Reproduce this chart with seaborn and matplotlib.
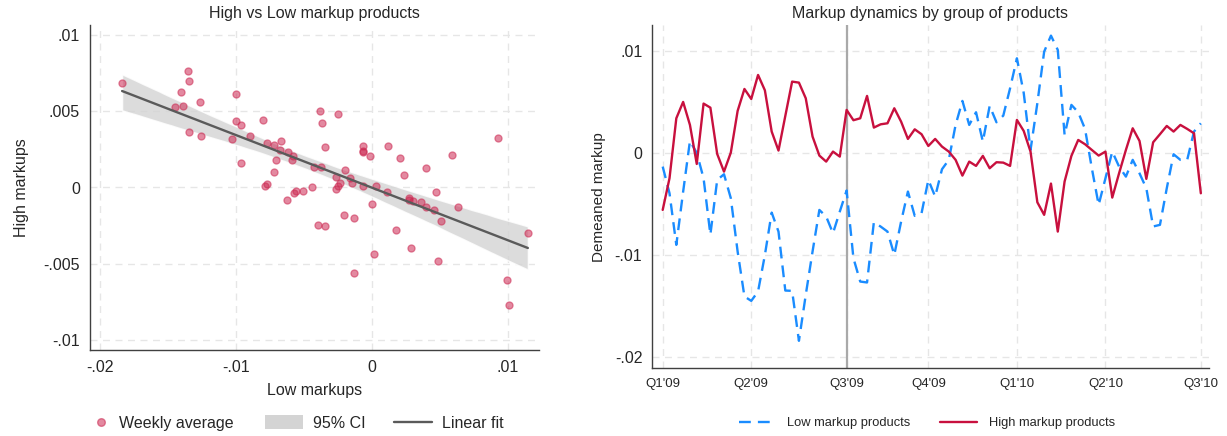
import numpy as np
import pandas as pd
import seaborn as sns
import matplotlib.pyplot as plt
from matplotlib.lines import Line2D
from matplotlib.patches import Patch
from matplotlib.ticker import FuncFormatter

# weekly demeaned markups, Q1'09 .. Q3'10 (week index 0..79)
low_markup = [
    -0.00134, -0.00395, -0.0090, -0.0038, 0.00117, 0.0, -0.00248, -0.0080,
    -0.00264, -0.00209, -0.00443, -0.00965, -0.01405, -0.01448, -0.01356, -0.0100,
    -0.00584, -0.0077, -0.01347, -0.0135, -0.01839, -0.0139, -0.00965, -0.00558,
    -0.00623, -0.00786, -0.00574, -0.00368, -0.0103, -0.01259, -0.01268, -0.00678,
    -0.00721, -0.0077, -0.00998, -0.00672, -0.00378, -0.00616, -0.0059, -0.00264,
    -0.00427, -0.0016, -0.00068, 0.00274, 0.00509, 0.00274, 0.00398, 0.00111,
    0.0046, 0.0030, 0.00365, 0.00633, 0.00926, 0.00587, 0.00029, 0.00486,
    0.00991, 0.01148, 0.01008, 0.00176, 0.0047, 0.00398, 0.00235, -0.0015,
    -0.00509, -0.00248, 0.00013, -0.00134, -0.00232, -0.00068, -0.0020, -0.00346,
    -0.0072, -0.00704, -0.00346, -0.00013, -0.00068, -0.00068, 0.00209, 0.0029,
]
high_markup = [
    -0.00558, -0.00248, 0.00339, 0.00499, 0.00274, -0.00108, 0.00483, 0.00443,
    -0.0001, -0.00183, 0.00003, 0.00411, 0.00626, 0.00528, 0.00763, 0.00613,
    0.00209, 0.00023, 0.00362, 0.00698, 0.00688, 0.00535, 0.0016, -0.00026,
    -0.00085, 0.00013, -0.00036, 0.00421, 0.0032, 0.00339, 0.00558, 0.00248,
    0.0028, 0.0029, 0.00437, 0.00306, 0.00137, 0.00231, 0.00183, 0.00068,
    0.00137, 0.00062, 0.00013, -0.00068, -0.00222, -0.00085, -0.00127, -0.00029,
    -0.0015, -0.00091, -0.00095, -0.00127, 0.00323, 0.00215, 0.00013, -0.00483,
    -0.00606, -0.0030, -0.0077, -0.0028, -0.00029, 0.00127, 0.00085, 0.00029,
    -0.00026, 0.00013, -0.00437, -0.00199, 0.00029, 0.00241, 0.00117, -0.00254,
    0.00104, 0.00183, 0.00264, 0.00209, 0.00274, 0.00235, 0.00192, -0.00395,
]
weeks = list(range(len(low_markup)))
quarter_weeks = [0, 13, 27, 39, 52, 65, 79]
quarter_labels = ["Q1'09", "Q2'09", "Q3'09", "Q4'09", "Q1'10", "Q2'10", "Q3'10"]
event_week = 27

df = pd.DataFrame({'week': weeks, 'low': low_markup, 'high': high_markup})

sns.set_style('white')
plt.rcParams['font.family'] = ['Liberation Sans', 'DejaVu Sans']

RED = '#c8103e'
BLUE = '#1a8cff'
GRID = '#e6e6e6'
AXC = '#404040'
DASH = (0, (5, 3))
W, H = 1227, 436


def stata_fmt(v, pos):
    if abs(v) < 1e-12:
        return '0'
    return ('%g' % v).replace('0.', '.')


def style_axes(ax):
    sns.despine(ax=ax)
    for side in ['left', 'bottom']:
        ax.spines[side].set_color(AXC)
        ax.spines[side].set_linewidth(1.0)
    ax.grid(True, color=GRID, linestyle=(0, (5, 4)), linewidth=1.0)
    ax.set_axisbelow(True)
    ax.tick_params(direction='out', length=4, width=1, color=AXC, labelsize=11.5, pad=3)
    ax.xaxis.set_major_formatter(FuncFormatter(stata_fmt))
    ax.yaxis.set_major_formatter(FuncFormatter(stata_fmt))


def legend_item(fig, handle, label, x_px, hlen, size=11.5, hheight=0.7):
    fig.legend([handle], [label], loc='center left', bbox_to_anchor=(x_px / W, 1 - 423 / H),
               frameon=False, fontsize=size, handlelength=hlen, handleheight=hheight,
               handletextpad=0.6, borderpad=0, borderaxespad=0)


fig = plt.figure(figsize=(12.27, 4.36), dpi=100)

# ---- left panel: scatter + linear fit
ax1 = fig.add_axes([89.5 / W, 1 - 350 / H, 449.5 / W, 325 / H])
sns.regplot(data=df, x='low', y='high', ax=ax1, ci=95, n_boot=2000, seed=3,
            scatter_kws=dict(s=26, color='#cc2952', alpha=0.55, linewidths=0.9, zorder=3),
            line_kws=dict(color='#5a5a5a', lw=1.7, zorder=4))
for coll in ax1.collections:
    if coll.__class__.__name__ in ('PolyCollection', 'FillBetweenPolyCollection'):
        coll.set_facecolor('#d4d4d4')
        coll.set_alpha(0.8)
        coll.set_zorder(2)
style_axes(ax1)
ax1.set_xlim(-0.02079, 0.0123)
ax1.set_ylim(-0.01066, 0.01066)
ax1.set_xticks([-0.02, -0.01, 0, 0.01])
ax1.set_yticks([-0.01, -0.005, 0, 0.005, 0.01])
ax1.set_xlabel('Low markups', fontsize=11.5, labelpad=6)
ax1.set_ylabel('High markups', fontsize=11.5, labelpad=10)
ax1.set_title('High vs Low markup products', fontsize=11.5, pad=5)

legend_item(fig, Line2D([], [], ls='none', marker='o', ms=5.5, color='#cc2952', alpha=0.55),
            'Weekly average', 93, 1.0)
legend_item(fig, Patch(facecolor='#d4d4d4', edgecolor='none'), '95% CI', 265, 2.4, hheight=1.0)
legend_item(fig, Line2D([], [], color='#5a5a5a', lw=1.7), 'Linear fit', 394, 2.4)

# ---- right panel: time series
ax2 = fig.add_axes([652 / W, 1 - 368.3 / H, 557 / W, 343.3 / H])
sns.lineplot(data=df, x='week', y='low', ax=ax2, color=BLUE, lw=1.7,
             linestyle=DASH, zorder=3)
sns.lineplot(data=df, x='week', y='high', ax=ax2, color=RED, lw=1.7, zorder=4)
ax2.axvline(event_week, color='#a9a9a9', lw=1.6, zorder=2)
style_axes(ax2)
ax2.set_xlim(-1.57, 80.2)
ax2.set_ylim(-0.02108, 0.01252)
ax2.set_yticks([-0.02, -0.01, 0, 0.01])
ax2.set_xticks(quarter_weeks)
ax2.set_xticklabels(quarter_labels)
ax2.tick_params(axis='x', labelsize=9.5)
ax2.set_xlabel('')
ax2.set_ylabel('Demeaned markup', fontsize=11, labelpad=6)
ax2.set_title('Markup dynamics by group of products', fontsize=11.5, pad=5)

h2 = [Line2D([], [], color=BLUE, lw=1.7, linestyle=DASH),
      Line2D([], [], color=RED, lw=1.7)]
fig.legend(h2, ['Low markup products', 'High markup products'], loc='center',
           bbox_to_anchor=(927 / W, 1 - 423 / H), ncol=2, frameon=False,
           fontsize=9.3, handlelength=2.85, columnspacing=2.3, handletextpad=0.9)

fig.savefig('out.png', dpi=100)
